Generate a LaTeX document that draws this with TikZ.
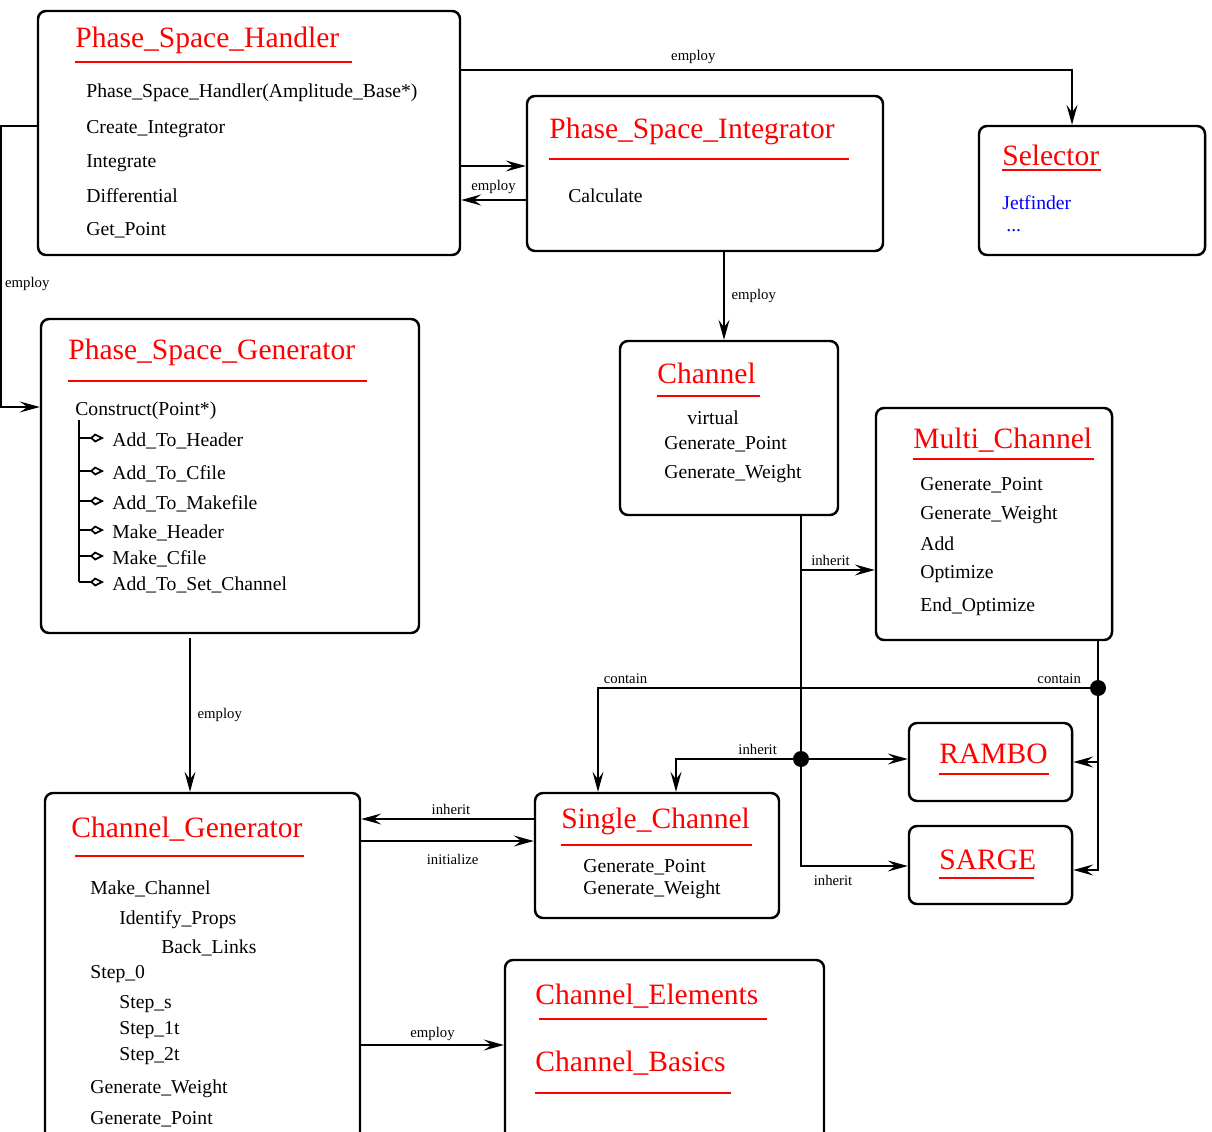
\documentclass[tikz,border=0pt]{standalone}
\usepackage{fontspec}
\setmainfont{Liberation Serif}
\usepackage{xcolor}
\usetikzlibrary{arrows.meta,fit}

\tikzset{
	box/.style = {draw, inner sep=0pt, line width=1.4pt, rounded corners=0.16cm},
	ttl/.style = {anchor=west, inner sep=0pt, yshift=-0.8pt, text=red, font=\fontsize{16.8}{18}\selectfont},
	itm/.style = {anchor=west, inner sep=0pt, yshift=-1.7pt, font=\fontsize{11.2}{13}\selectfont},
	lbl/.style = {inner sep=1pt, font=\fontsize{8.4}{10}\selectfont},
	uline/.style = {red, line width=0.8pt},
	con/.style = {line width=0.7pt, -{Stealth[length=0.4cm,width=0.22cm,inset=0.15cm]}},
	sub/.style = {line width=0.7pt, -{Kite[open,line width=1pt,length=0.28cm,width=0.18cm,inset=0.1cm]}},
	dot/.style = {circle, fill, inner sep=0pt, minimum size=0.32cm}
}

\begin{document}
\begin{tikzpicture}[x=0.02cm, y=-0.02cm]
		\useasboundingbox (0,0) rectangle (1212,1131);
		\clip (0,0) rectangle (1212,1131);

		% boxes
		\node[box, fit={(38,11) (460,255)}] (psh) {};
		\node[box, fit={(527,96) (883,251)}] (psi) {};
		\node[box, fit={(979,126) (1205,255)}] (sel) {};
		\node[box, fit={(41,319) (419,633)}] (psg) {};
		\node[box, fit={(620,341) (838,515)}] (chn) {};
		\node[box, fit={(876,408) (1112,640)}] (mc) {};
		\node[box, fit={(909,723) (1072,801)}] (rambo) {};
		\node[box, fit={(909,826) (1072,904)}] (sarge) {};
		\node[box, fit={(535,793) (779,918)}] (sc) {};
		\node[box, fit={(45,793) (360,1160)}] (cg) {};
		\node[box, fit={(505,960) (824,1160)}] (ce) {};

		% Phase_Space_Handler
		\node[ttl] (psht) at (75,39) {Phase\_Space\_Handler};
		\draw[uline] (75,62) -- (352,62);
		\node[itm] (psh1) at (86,90) {Phase\_Space\_Handler(Amplitude\_Base*)};
		\node[itm] (psh2) at (86,126) {Create\_Integrator};
		\node[itm] (psh3) at (86,160) {Integrate};
		\node[itm] (psh4) at (86,193) {Differential};
		\node[itm] (psh5) at (86,227) {Get\_Point};

		% Phase_Space_Integrator
		\node[ttl] (psit) at (549,130) {Phase\_Space\_Integrator};
		\draw[uline] (549,159) -- (849,159);
		\node[itm] (psi1) at (568,193) {Calculate};

		% Selector
		\node[ttl] (selt) at (1002,154) {Selector};
		\draw[uline] (1002,170) -- (1101,170);
		\node[itm, text=blue] (sel1) at (1002,200) {Jetfinder};
		\node[itm, text=blue] (sel2) at (1006,228) {...};

		% Phase_Space_Generator
		\node[ttl] (psgt) at (68,351) {Phase\_Space\_Generator};
		\draw[uline] (68,381) -- (367,381);
		\node[itm] (psg0) at (75,408) {Construct(Point*)};
		\draw[line width=0.7pt] (79,420) -- (79,582);
		\foreach \y/\t [count=\i] in {438/Add\_To\_Header, 471/Add\_To\_Cfile, 501/Add\_To\_Makefile,
				530/Make\_Header, 556/Make\_Cfile, 582/Add\_To\_Set\_Channel}{
			\draw[sub] (79,\y) -- (104,\y);
			\node[itm] (psg\i) at (112,\y) {\t};
		}

		% Channel
		\node[ttl] (chnt) at (657,372) {Channel};
		\draw[uline] (657,396) -- (760,396);
		\node[itm] (chn1) at (687,415) {virtual};
		\node[itm] (chn2) at (664,441) {Generate\_Point};
		\node[itm] (chn3) at (664,471) {Generate\_Weight};

		% Multi_Channel
		\node[ttl] (mct) at (913,439) {Multi\_Channel};
		\draw[uline] (913,459) -- (1094,459);
		\node[itm] (mc1) at (920,482) {Generate\_Point};
		\node[itm] (mc2) at (920,512) {Generate\_Weight};
		\node[itm] (mc3) at (920,541) {Add};
		\node[itm] (mc4) at (920,571) {Optimize};
		\node[itm] (mc5) at (920,604) {End\_Optimize};

		% RAMBO, SARGE
		\node[ttl] (rambot) at (939,752) {RAMBO};
		\draw[uline] (939,774) -- (1049,774);
		\node[ttl] (sarget) at (939,858) {SARGE};
		\draw[uline] (939,878) -- (1034,878);

		% Single_Channel
		\node[ttl] (sct) at (561,820) {Single\_Channel};
		\draw[uline] (561,845) -- (752,845);
		\node[itm] (sc1) at (583,864) {Generate\_Point};
		\node[itm] (sc2) at (583,887) {Generate\_Weight};

		% Channel_Generator
		\node[ttl] (cgt) at (71,828) {Channel\_Generator};
		\draw[uline] (75,856) -- (304,856);
		\node[itm] (cg1) at (90,886) {Make\_Channel};
		\node[itm] (cg2) at (119,917) {Identify\_Props};
		\node[itm] (cg3) at (161,945) {Back\_Links};
		\node[itm] (cg4) at (90,971) {Step\_0};
		\node[itm] (cg5) at (119,1001) {Step\_s};
		\node[itm] (cg6) at (119,1027) {Step\_1t};
		\node[itm] (cg7) at (119,1053) {Step\_2t};
		\node[itm] (cg8) at (90,1086) {Generate\_Weight};
		\node[itm] (cg9) at (90,1116) {Generate\_Point};

		% Channel_Elements
		\node[ttl] (cet) at (535,995) {Channel\_Elements};
		\draw[uline] (539,1019) -- (767,1019);
		\node[ttl] (ce1) at (535,1062) {Channel\_Basics};
		\draw[uline] (535,1093) -- (731,1093);

		% connectors
		\draw[con] (psh.east |- 0,70) -| (1072,0 |- sel.north) node[lbl, pos=0.19, above=2pt]{employ};
		\draw[con] (psh.east |- 0,166) -- (psi.west |- 0,166);
		\draw[con] (psi.west |- 0,200) -- (psh.east |- 0,200) node[lbl, midway, above=2pt]{employ};
		\draw[con] (724,0 |- psi.south) -- (724,0 |- chn.north) node[lbl, midway, right=3pt]{employ};
		\draw[con] (psh.west |- 0,126) -| (1,284) node[lbl, right=1pt]{employ} |- (psg.west |- 0,407);
		\draw[con] (190,638) -- (190,0 |- cg.north) node[lbl, midway, right=3pt]{employ};

		\draw[line width=0.7pt] (801,0 |- chn.south) -- (801,759);
		\draw[con] (801,570) -- (mc.west |- 0,570) node[lbl, pos=0.4, above=1pt]{inherit};
		\node[dot] (d1) at (801,759) {};
		\draw[con] (d1) -- (rambo.west |- d1);
		\draw[con] (d1) -| (676,0 |- sc.north) node[lbl, pos=0.15, above=1pt]{inherit};
		\draw[con] (d1) |- (sarge.west |- 0,866) node[lbl, pos=0.65, below=4pt]{inherit};

		\node[dot] (d2) at (1098,688) {};
		\draw[line width=0.7pt] (1098,0 |- mc.south) -- (d2);
		\draw[con] (d2) -| (598,0 |- sc.north) node[lbl, pos=0.031, above=1pt]{contain} node[lbl, pos=0.472, above=1pt]{contain};
		\draw[con] (d2) |- (rambo.east |- 0,762);
		\draw[con] (d2) |- (sarge.east |- 0,870);

		\draw[con] (sc.west |- 0,819) -- (cg.east |- 0,819) node[lbl, pos=0.48, above=1pt]{inherit};
		\draw[con] (cg.east |- 0,841) -- (sc.west |- 0,841) node[lbl, pos=0.53, below=6pt]{initialize};
		\draw[con] (cg.east |- 0,1045) -- (ce.west |- 0,1045) node[lbl, midway, above=1pt]{employ};
	\end{tikzpicture}
\end{document}
